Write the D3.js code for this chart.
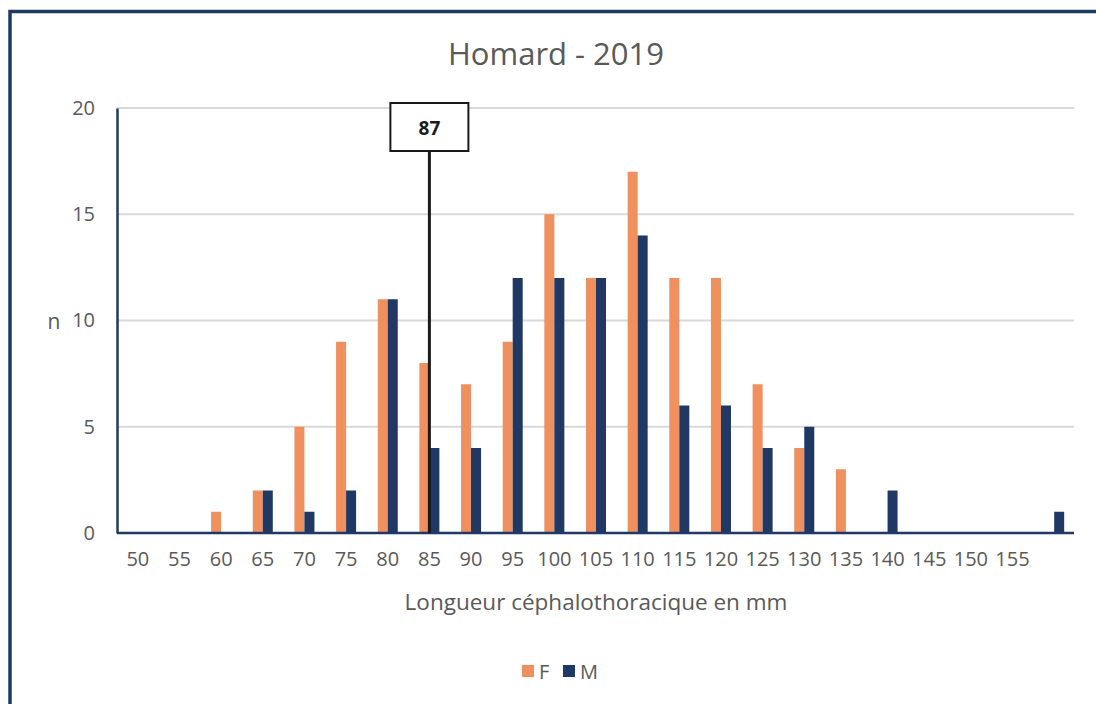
<!DOCTYPE html>
<html>
<head>
<meta charset="utf-8">
<script src="https://cdn.jsdelivr.net/npm/d3@7"></script>
<style>
  html, body { margin: 0; padding: 0; background: #fff; }
  svg { display: block; }
</style>
</head>
<body>
<svg id="chart" width="1096" height="704"></svg>
<script>
// Size classes (mm) and their axis labels; the last class has no label
const sizes = [50, 55, 60, 65, 70, 75, 80, 85, 90, 95, 100, 105, 110, 115, 120, 125, 130, 135, 140, 145, 150, 155, 160];
const tickLabels = ["50", "55", "60", "65", "70", "75", "80", "85", "90", "95", "100", "105", "110", "115", "120", "125", "130", "135", "140", "145", "150", "155", ""];
// Counts per size class
const femaleCounts = [0, 0, 1, 2, 5, 9, 11, 8, 7, 9, 15, 12, 17, 12, 12, 7, 4, 3, 0, 0, 0, 0, 0];
const maleCounts   = [0, 0, 0, 2, 1, 2, 11, 4, 4, 12, 12, 12, 14, 6, 6, 4, 5, 0, 2, 0, 0, 0, 1];
const seriesNames = ["F", "M"];
const yTicks = [0, 5, 10, 15, 20];
// Reference size marker
const markerValue = 87;

const colors = { F: "#F0905E", M: "#1F3864" };
const textColor = "#595959";
const font = "'Open Sans', sans-serif";

const svg = d3.select("#chart");

// Outer frame (top and left edges)
svg.append("path")
  .attr("d", "M10,704 L10,11.5 L1096,11.5")
  .attr("fill", "none")
  .attr("stroke", "#1F3864")
  .attr("stroke-width", 3.5);

const plot = { left: 117, right: 1075, top: 108, bottom: 533 };

const x = d3.scaleBand()
  .domain(sizes)
  .range([plot.left, plot.right])
  .padding(0);

const y = d3.scaleLinear()
  .domain([0, 20])
  .range([plot.bottom, plot.top]);

const bw = x.bandwidth();
const barW = 10;

// Horizontal gridlines
svg.append("g")
  .selectAll("line")
  .data(yTicks.filter(d => d > 0))
  .join("line")
  .attr("x1", plot.left)
  .attr("x2", plot.right - 1)
  .attr("y1", d => y(d))
  .attr("y2", d => y(d))
  .attr("stroke", "#D9D9D9")
  .attr("stroke-width", 2);

// Bars
const rows = sizes.map((s, i) => ({ size: s, F: femaleCounts[i], M: maleCounts[i] }));
seriesNames.forEach((name, si) => {
  svg.append("g")
    .selectAll("rect")
    .data(rows.filter(r => r[name] > 0))
    .join("rect")
    .attr("x", r => x(r.size) + bw / 2 - barW + si * barW)
    .attr("width", barW)
    .attr("y", r => y(r[name]))
    .attr("height", r => y(0) - y(r[name]))
    .attr("fill", colors[name]);
});

// Y axis
const yAxis = svg.append("g")
  .attr("transform", `translate(${plot.left},0)`)
  .call(d3.axisLeft(y).tickValues(yTicks).tickSize(0).tickPadding(22));
yAxis.select(".domain").attr("stroke", "#1F3864").attr("stroke-width", 2.5);
yAxis.selectAll("text")
  .attr("fill", textColor)
  .style("font-family", font)
  .style("font-size", "20px");

// X axis
const xAxis = svg.append("g")
  .attr("transform", `translate(0,${plot.bottom})`)
  .call(d3.axisBottom(x).tickSize(0).tickPadding(19).tickFormat((d, i) => tickLabels[i]));
xAxis.select(".domain")
  .attr("d", `M${plot.left},0H${plot.right - 1}`)
  .attr("stroke", "#1F3864").attr("stroke-width", 2.5);
xAxis.selectAll("text")
  .attr("fill", textColor)
  .style("font-family", font)
  .style("font-size", "20px");

// Marker line at the class containing the reference size
const markerClass = Math.floor(markerValue / 5) * 5;
const mx = x(markerClass) + bw / 2;
svg.append("line")
  .attr("x1", mx).attr("x2", mx)
  .attr("y1", 151).attr("y2", y(0))
  .attr("stroke", "#1A1A1A")
  .attr("stroke-width", 3);
svg.append("rect")
  .attr("x", mx - 39).attr("y", 103)
  .attr("width", 78).attr("height", 48)
  .attr("fill", "#fff")
  .attr("stroke", "#1A1A1A")
  .attr("stroke-width", 2);
svg.append("text")
  .attr("x", mx).attr("y", 128)
  .attr("text-anchor", "middle")
  .attr("dominant-baseline", "central")
  .attr("fill", "#1A1A1A")
  .style("font-family", font)
  .style("font-size", "19px")
  .style("font-weight", "bold")
  .text(markerValue);

// Title
svg.append("text")
  .attr("x", 556).attr("y", 65)
  .attr("text-anchor", "middle")
  .attr("fill", textColor)
  .style("font-family", font)
  .style("font-size", "31px")
  .text("Homard - 2019");

// Axis titles
svg.append("text")
  .attr("x", 596).attr("y", 610)
  .attr("text-anchor", "middle")
  .attr("fill", textColor)
  .style("font-family", font)
  .style("font-size", "22.5px")
  .text("Longueur céphalothoracique en mm");

svg.append("text")
  .attr("x", 54).attr("y", 329)
  .attr("text-anchor", "middle")
  .attr("fill", textColor)
  .style("font-family", font)
  .style("font-size", "21px")
  .text("n");

// Legend
const legend = svg.append("g").attr("transform", "translate(522,665)");
const legendItems = [{ name: "F", dx: 0 }, { name: "M", dx: 41 }];
legendItems.forEach(it => {
  legend.append("rect")
    .attr("x", it.dx).attr("y", 0)
    .attr("width", 12).attr("height", 12)
    .attr("fill", colors[it.name]);
  legend.append("text")
    .attr("x", it.dx + 17).attr("y", 6)
    .attr("dominant-baseline", "central")
    .attr("fill", textColor)
    .style("font-family", font)
    .style("font-size", "20px")
    .text(it.name);
});
</script>
</body>
</html>
